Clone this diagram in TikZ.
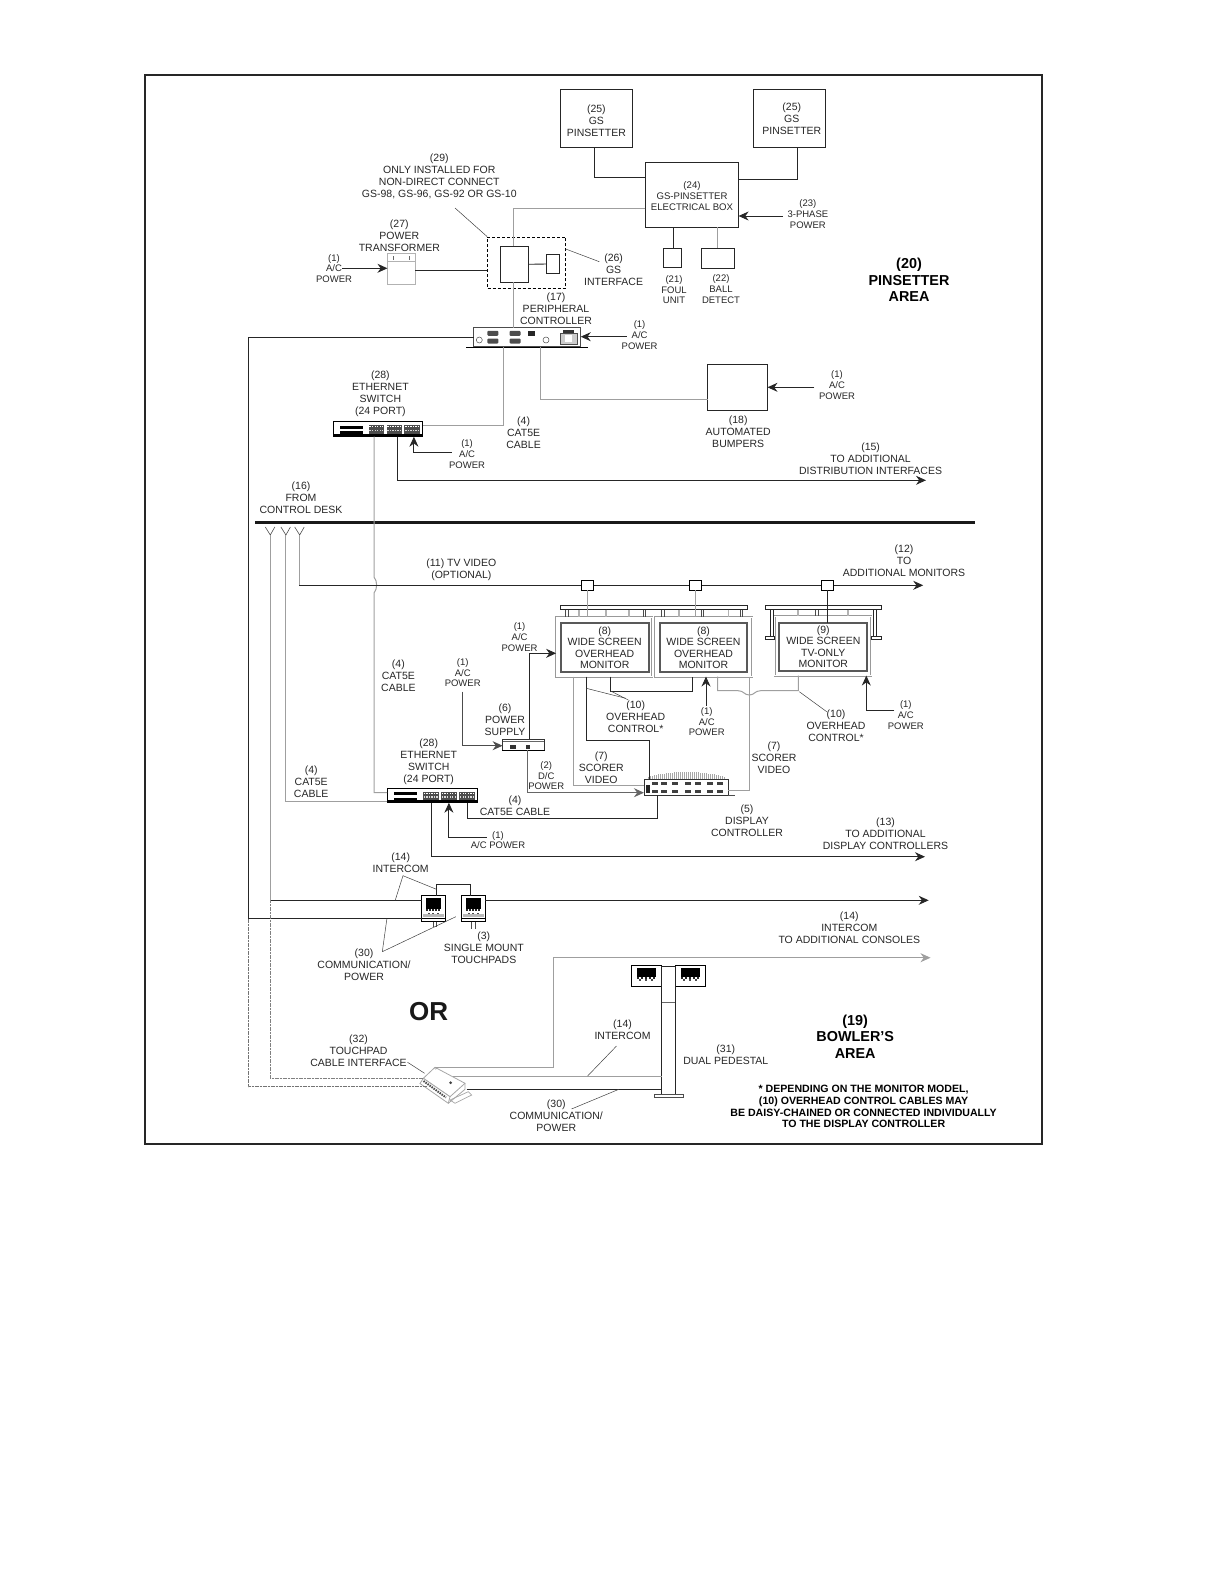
\documentclass[tikz,border=0pt]{standalone}
\usepackage{fontspec}
\setmainfont{Liberation Sans}
\usetikzlibrary{arrows.meta, positioning, calc}

\begin{document}
\begin{tikzpicture}[x=1pt, y=-1pt, >={Stealth[length=10pt,width=9pt]},
  wire/.style={black!85, line width=0.9pt},
  cable/.style={gray!75, line width=1pt},
  faint/.style={black!55, line width=1pt, dash pattern=on 1.2pt off 0.4pt},
  leader/.style={black!75, line width=0.5pt},
  unit/.style={draw=black!85, line width=1pt, inner sep=0pt, outer sep=0pt},
  pale/.style={draw=gray!60, line width=0.8pt, inner sep=0pt, outer sep=0pt},
  bezel/.style={draw=gray!80, line width=0.6pt, double=white, double distance=0.8pt, inner sep=0pt, outer sep=0pt},
  screen/.style={draw=black!65, line width=1.7pt, inner sep=0pt, outer sep=0pt, align=center,
    font=\fontsize{10.5}{11.6}\selectfont, text=black!85},
  txt/.style={align=center, inner sep=0pt, text=black!85, font=\fontsize{10.5}{12}\selectfont},
  tiny/.style={align=center, inner sep=0pt, text=black!85, font=\fontsize{9.5}{10.8}\selectfont},
  area/.style={align=center, inner sep=0pt, font=\fontsize{14.4}{16.6}\bfseries\selectfont},
  note/.style={align=center, inner sep=0pt, font=\fontsize{10.6}{11.8}\bfseries\selectfont}]
  \useasboundingbox (0,0) rectangle (1224,1584);

  % Outer frame and the divider
  \node[draw=black!85, line width=2pt, inner sep=0pt, minimum width=896.4, minimum height=1069.4] (frame) at (593.3,609.7) {};
  \coordinate (barL) at (255,522);
  \coordinate (barR) at (974.6,522);
  \draw[black!90, line width=3pt] (barL) -- (barR);

  % Pinsetter area
  \node[unit, minimum width=71.8, minimum height=58] (pinA) at (596.6,118.3) {};
  \node[txt] (tPinA) at (596.4,121) {(25)\\GS\\PINSETTER};
  \node[unit, minimum width=72.1, minimum height=58] (pinB) at (789.6,118.3) {};
  \node[txt] (tPinB) at (791.8,119) {(25)\\GS\\PINSETTER};
  \node[unit, minimum width=93.2, minimum height=65] (elec) at (692,194.8) {};
  \node[tiny, font=\fontsize{9.6}{11}\selectfont] (tElec) at (692,195.7) {(24)\\GS-PINSETTER\\ELECTRICAL BOX};
  \node[unit, minimum width=18.6, minimum height=19.4] (foul) at (672.5,258) {};
  \node[tiny] (tFoul) at (674,289.7) {(21)\\FOUL\\UNIT};
  \node[unit, minimum width=33.2, minimum height=20.4] (ball) at (718,258.5) {};
  \node[tiny] (tBall) at (721,289) {(22)\\BALL\\DETECT};
  \node[tiny] (tPhase) at (807.9,214) {(23)\\3-PHASE\\POWER};
  \node[area] (tPinArea) at (909,280) {(20)\\PINSETTER\\AREA};

  \coordinate (pinAj) at (594.6,177.3);
  \coordinate (pinBj) at (797.5,179.3);
  \coordinate (foulX) at (673.6,240);
  \coordinate (ballX) at (717.5,240);
  \coordinate (phaseIn) at (783.2,216);
  \draw[wire] (pinA.south -| pinAj) -- (pinAj) -- (pinAj -| elec.west);
  \draw[wire] (pinB.south -| pinBj) -- (pinBj) -- (pinBj -| elec.east);
  \draw[wire] (elec.south -| foulX) -- (foul.north -| foulX);
  \draw[cable] (elec.south -| ballX) -- (ball.north -| ballX);
  \draw[wire, ->] (phaseIn) -- (phaseIn -| elec.east);

  % GS interface
  \node[draw=black, line width=0.7pt, dash pattern=on 3pt off 2pt, inner sep=0pt, minimum width=78.2, minimum height=51.3] (ifcBox) at (526.6,262.6) {};
  \node[unit, minimum width=28.2, minimum height=36] (ifc) at (514.5,264.3) {};
  \node[unit, minimum width=13.2, minimum height=19.4] (ifcS) at (553,264) {};
  \node[pale, minimum width=27.9, minimum height=31] (xfmr) at (401.4,268.8) {};
  \draw[gray!60, line width=0.6pt] (xfmr.west |- 0,261.7) -- (xfmr.east |- 0,261.7);
  \foreach \x in {393,409} { \draw[black!60, line width=0.7pt] (\x,256) -- (\x,260); }
  \node[txt] (tIfcNote) at (439.3,176) {(29)\\ONLY INSTALLED FOR\\NON-DIRECT CONNECT\\GS-98, GS-96, GS-92 OR GS-10};
  \node[txt] (tXfmr) at (399.3,235.3) {(27)\\POWER\\TRANSFORMER};
  \node[tiny] (tAcXf) at (334,268.5) {(1)\\A/C\\POWER};
  \node[txt] (tIfc) at (613.6,269.7) {(26)\\GS\\INTERFACE};

  \coordinate (ifcUp) at (513.2,208);
  \coordinate (xfmrOut) at (415.4,270.3);
  \coordinate (acXf) at (342,268.3);
  \coordinate (noteEnd) at (455,208);
  \coordinate (ifcTag) at (599.3,261.7);
  \coordinate (ifcDash) at (565.7,249);
  \draw[cable] (elec.west |- ifcUp) -- (ifcUp) -- (ifcUp |- ifc.north);
  \draw[wire] (ifc.east) -- (ifcS.west);
  \draw[wire] (xfmrOut) -- (xfmrOut -| ifcBox.west);
  \draw[wire, ->] (acXf) -- (acXf -| xfmr.west);
  \draw[leader] (noteEnd) -- (ifcBox.north west);
  \draw[leader] (ifcDash) -- (ifcTag);

  % Peripheral controller
  \node[pale, draw=black!70, minimum width=107.1, minimum height=19] (periph) at (527.2,337.2) {};
  \draw[black, line width=0.8pt] (466,347) -- (587.9,347);
  \foreach \x/\y in {492.9/333.3, 492.9/341, 515/333.3, 515/341} {
    \fill[black!70, rounded corners=1pt] (\x-5.5,\y-2.5) rectangle (\x+5.5,\y+2.5);
  }
  \foreach \x in {479.3,546} { \draw[black!70, line width=0.5pt] (\x,340) circle (3); }
  \fill[black!85] (528,331) rectangle (535,336);
  \draw[black!70, line width=0.8pt, fill=gray!40] (560.5,333) rectangle (577,344);
  \fill[black!80] (563,330) rectangle (574,333);
  \fill[white] (565,335) rectangle (572,342);
  \node[txt] (tPeriph) at (556,309) {(17)\\PERIPHERAL\\CONTROLLER};
  \node[tiny] (tAcPeriph) at (639.6,335) {(1)\\A/C\\POWER};
  \coordinate (acPeriph) at (626.8,336.7);
  \draw[wire, ->] (acPeriph) -- (acPeriph -| periph.east);
  \draw[cable] (ifcUp |- ifc.south) -- (ifcUp |- periph.north);

  % Automated bumpers
  \node[unit, minimum width=60, minimum height=46] (bump) at (737.5,387.3) {};
  \node[txt] (tBump) at (738.2,431.3) {(18)\\AUTOMATED\\BUMPERS};
  \node[tiny] (tAcBump) at (837,385) {(1)\\A/C\\POWER};
  \coordinate (acBump) at (814.3,387.3);
  \coordinate (bumpJ) at (540.4,399.3);
  \draw[wire, ->] (acBump) -- (bump.east);
  \draw[cable] (periph.south -| bumpJ) -- (bumpJ) -- (bumpJ -| bump.west);

  % Ethernet switches
  \foreach \n/\cx/\cy/\w/\h in {A/378/429/89.7/15.4, B/432.4/795.5/90.8/14.4} {
    \node[unit, draw=black, fill=white, minimum width=\w, minimum height=\h] (sw\n) at (\cx,\cy) {};
    \fill[black] (\cx-\w*0.42,\cy-\h*0.22) rectangle (\cx-\w*0.17,\cy-\h*0.02);
    \fill[black] (\cx-\w*0.42,\cy+\h*0.14) rectangle (\cx-\w*0.17,\cy+\h*0.5);
    \fill[black] (\cx-\w*0.5,\cy+\h*0.3) rectangle (\cx+\w*0.5,\cy+\h*0.5);
    \foreach \g in {0,1,2} {
      \fill[black!70] (\cx-\w*0.105+\g*\w*0.2,\cy-\h*0.26) rectangle ++(\w*0.175,\h*0.56);
      \foreach \k in {0,...,5} {
        \fill[white] (\cx-\w*0.095+\g*\w*0.2+\k*\w*0.028,\cy-\h*0.2) rectangle ++(1.3,1.5);
        \fill[gray!30] (\cx-\w*0.095+\g*\w*0.2+\k*\w*0.028,\cy+\h*0.06) rectangle ++(1.3,1.5);
      }
    }
  }
  \node[txt] (tSwA) at (380.4,394) {(28)\\ETHERNET\\SWITCH\\(24 PORT)};
  \node[txt] (tCatA) at (523.6,433) {(4)\\CAT5E\\CABLE};
  \node[tiny] (tAcSwA) at (467.1,454) {(1)\\A/C\\POWER};
  \node[txt] (tDist) at (870.6,458.3) {(15)\\TO ADDITIONAL\\DISTRIBUTION INTERFACES};
  \node[txt] (tDesk) at (301,498) {(16)\\FROM\\CONTROL DESK};

  \coordinate (catA) at (503.6,425.3);
  \coordinate (acSwA) at (451.8,452.7);
  \coordinate (acSwAj) at (413.9,452.7);
  \coordinate (distJ) at (397.5,480.3);
  \coordinate (distEnd) at (926,480.3);
  \draw[cable] (periph.south -| catA) -- (catA) -- (catA -| swA.east);
  \draw[wire, ->] (acSwA) -- (acSwAj) -- (acSwAj |- swA.south);
  \draw[wire, ->] (swA.south -| distJ) -- (distJ) -- (distEnd);

  % Trunk between the switches, hopping the TV line
  \coordinate (trunk) at (374,577);
  \coordinate (trunkEnd) at (374,792.7);
  \draw[cable] (swA.south -| trunk) -- (trunk) .. controls (377.5,581) and (377.5,589) .. (374,593) -- (trunkEnd) -- (trunkEnd -| swB.west);

  % Lines from the control desk
  \foreach \n/\x in {A/270.3, B/285.9, C/299.7} {
    \coordinate (fork\n) at (\x,535);
    \coordinate (forkL\n) at (\x-5,527);
    \coordinate (forkR\n) at (\x+4.5,527);
    \draw[black!70, line width=0.6pt] (forkL\n) -- (fork\n) -- (forkR\n);
  }
  \coordinate (tvJ) at (299.7,585.3);
  \coordinate (tvEnd) at (923.2,585.3);
  \coordinate (catB) at (285.9,801);
  \draw[wire, ->] (forkC) -- (tvJ) -- (tvEnd);
  \draw[cable] (forkC) -- (tvJ);
  \draw[cable] (forkB) -- (catB) -- (catB -| swB.west);
  \node[txt] (tTv) at (461.3,570) {(11) TV VIDEO\\(OPTIONAL)};
  \node[txt] (tMore) at (904,560.7) {(12)\\TO\\ADDITIONAL MONITORS};
  \node[txt] (tCatM) at (398.4,675.7) {(4)\\CAT5E\\CABLE};
  \node[txt] (tCatL) at (311.2,782) {(4)\\CAT5E\\CABLE};
  \node[txt] (tSwB) at (428.7,762) {(28)\\ETHERNET\\SWITCH\\(24 PORT)};

  % Overhead monitors
  \foreach \n/\cx/\w in {A/604.2/96.2, B/703.7/96.5} {
    \node[bezel, minimum width=\w, minimum height=59.5] (frm\n) at (\cx,646.8) {};
  }
  \node[bezel, minimum width=96.6, minimum height=59.2] (frmC) at (823,646) {};
  \draw[black!85, line width=0.9pt] (560.7,605.7) rectangle (747.3,609.7);
  \draw[black!85, line width=0.9pt] (765.3,605.7) rectangle (881.7,609.7);
  \foreach \x in {578.7,605.7,628.7,678.7,728.3} {
    \draw[gray!60, line width=1.6pt] (\x,609.7) -- (\x,616.7);
  }
  \foreach \x in {566.7,644.3,662.7,702.3,741} {
    \draw[black!70, line width=0.6pt] (\x-1.2,609.7) -- (\x-1.2,616.7) (\x+1.2,609.7) -- (\x+1.2,616.7);
  }
  \foreach \x in {798,848} { \draw[gray!60, line width=1.6pt] (\x,609.7) -- (\x,616); }
  \draw[black!70, line width=0.6pt] (815.5,609.7) -- (815.5,616) (818,609.7) -- (818,616);
  \draw[black!85, line width=0.7pt] (770.5,609.7) -- (770.5,636) (773,609.7) -- (773,636);
  \draw[black!85, line width=0.7pt] (873,609.7) -- (873,636) (876,609.7) -- (876,636);
  \draw[black!85, line width=0.7pt] (765.3,636) rectangle (774.3,639.3);
  \draw[black!85, line width=0.7pt] (871.7,636) rectangle (881.7,639.3);
  \node[screen, minimum width=88, minimum height=49] (monA) at (604.7,647.8) {(8)\\WIDE SCREEN\\OVERHEAD\\MONITOR};
  \node[screen, minimum width=87.6, minimum height=49] (monB) at (703.5,647.8) {(8)\\WIDE SCREEN\\OVERHEAD\\MONITOR};
  \node[screen, minimum width=88, minimum height=48.3] (monC) at (823.3,646.8) {(9)\\WIDE SCREEN\\TV-ONLY\\MONITOR};

  % TV taps
  \foreach \n/\cx in {A/587.9, B/695.4, C/827.5} {
    \node[unit, draw=black, fill=white, minimum width=12, minimum height=10] (tap\n) at (\cx,585.3) {};
  }
  \draw[cable] (tapA.south) -- (tapA |- frmA.north);
  \draw[cable] (tapB.south) -- (tapB |- frmB.north);
  \draw[wire] (tapC.south) -- (tapC |- monC.north);

  % Power supply
  \node[pale, draw=black!80, minimum width=41.4, minimum height=11.3] (psu) at (523.3,744.6) {};
  \draw[black, line width=1.4pt] (502,750.3) -- (545,750.3);
  \draw[black!60, line width=1pt] (502.6,741) -- (544,741);
  \fill[black!80] (510,745) rectangle (516,749);
  \fill[black!80] (526,745) rectangle (530,749);
  \node[txt] (tPsu) at (505,719.3) {(6)\\POWER\\SUPPLY};
  \node[tiny] (tAcPsu) at (462.7,672.7) {(1)\\A/C\\POWER};
  \node[tiny] (tAcMon) at (519.6,637) {(1)\\A/C\\POWER};
  \node[tiny] (tDc) at (546.2,775.7) {(2)\\D/C\\POWER};

  \coordinate (acPsu) at (462.7,691.7);
  \coordinate (acPsuJ) at (462.7,745.7);
  \coordinate (monPow) at (529.7,653.3);
  \coordinate (dcJ) at (527,792.7);
  \draw[cable, ->, black!70] (acPsu) -- (acPsuJ) -- (acPsuJ -| psu.west);
  \draw[wire, ->] (psu.north -| monPow) -- (monPow) -- (monPow -| frmA.west);

  % Display controller
  \node[pale, draw=black!80, minimum width=84.3, minimum height=15.7] (disp) at (686.1,787.1) {};
  \foreach \k in {0,...,38} {
    \pgfmathsetmacro{\fx}{648+\k*2}
    \pgfmathsetmacro{\fy}{772+5*((\fx-686)/40)^2}
    \draw[gray!70, line width=1pt] (\fx,779.3) -- (\fx,\fy);
  }
  \foreach \x in {655,664,675,688,698,710,720} {
    \fill[black!75] (\x-3,782) rectangle (\x+3,784.5);
    \fill[black!75] (\x-3,790) rectangle (\x+3,792.5);
  }
  \fill[black!85] (645.5,785) rectangle (650,793);
  \draw[black!70, line width=0.8pt] (728.3,795) -- (735,795);
  \node[txt] (tDisp) at (747,821) {(5)\\DISPLAY\\CONTROLLER};
  \node[txt] (tCatB) at (515,805.5) {(4)\\CAT5E CABLE};
  \node[tiny] (tAcSwB) at (498,840) {(1)\\A/C POWER};
  \node[txt] (tAddDisp) at (885.5,833.3) {(13)\\TO ADDITIONAL\\DISPLAY CONTROLLERS};

  \coordinate (catC) at (467.7,818.3);
  \coordinate (catCu) at (657.4,818.3);
  \coordinate (acSwB) at (486.6,837.3);
  \coordinate (acSwBj) at (448.9,837.3);
  \coordinate (addJ) at (431.9,856.7);
  \coordinate (addEnd) at (925,856.7);
  \draw[cable, black!60, ->] (psu.south -| dcJ) -- (dcJ) -- (dcJ -| disp.west);
  \draw[wire] (swB.south -| catC) -- (catC) -- (catCu) -- (catCu |- disp.south);
  \draw[wire, ->] (acSwB) -- (acSwBj) -- (acSwBj |- swB.south);
  \draw[wire, ->] (swB.south -| addJ) -- (addJ) -- (addEnd);

  % Monitor control and video
  \node[txt] (tCtlA) at (635.7,716.7) {(10)\\OVERHEAD\\CONTROL*};
  \node[txt] (tCtlB) at (836,726) {(10)\\OVERHEAD\\CONTROL*};
  \node[txt] (tVidA) at (601.3,767.3) {(7)\\SCORER\\VIDEO};
  \node[txt] (tVidB) at (774,758) {(7)\\SCORER\\VIDEO};
  \node[tiny] (tAcMid) at (706.7,721.7) {(1)\\A/C\\POWER};
  \node[tiny] (tAcRt) at (905.8,715) {(1)\\A/C\\POWER};

  \coordinate (vidA) at (573.7,785.3);
  \coordinate (ctlV) at (586.3,740.3);
  \coordinate (ctlVe) at (649,740.3);
  \coordinate (ctlVd) at (649,780);
  \coordinate (ctlA) at (610.7,691);
  \coordinate (ctlB) at (692.7,691);
  \coordinate (vidB) at (749.3,790);
  \coordinate (ctlD) at (717.7,690.7);
  \coordinate (ctlE) at (798.3,690.7);
  \coordinate (acMid) at (706,706);
  \coordinate (acRt) at (894.3,710.3);
  \coordinate (acRtJ) at (866.3,710.3);
  \coordinate (tagA) at (586.3,688.3);
  \coordinate (tagB) at (625.7,698.3);
  \coordinate (tagC) at (628.3,700);
  \coordinate (tagD) at (799.3,691.7);
  \coordinate (tagE) at (826.7,711.7);
  \draw[cable] (frmA.south -| vidA) -- (vidA) -- (vidA -| disp.west);
  \draw[wire] (frmA.south -| ctlV) -- (ctlV) -- (ctlVe) -- (ctlVd);
  \draw[wire] (frmA.south -| ctlA) -- (ctlA) -- (ctlB) -- (ctlB |- frmB.south);
  \draw[cable] (frmB.south -| vidB) -- (vidB) -- (vidB -| disp.east);
  \draw[cable] (frmB.south -| ctlD) -- (ctlD) -- (738,690.7) .. controls (744,690.7) and (744,695) .. (749.3,695) .. controls (754.6,695) and (754.6,690.7) .. (760.6,690.7) -- (ctlE) -- (ctlE |- frmC.south);
  \draw[wire, ->] (acMid) -- (acMid |- frmB.south);
  \draw[wire, ->] (acRt) -- (acRtJ) -- (acRtJ |- frmC.south);
  \draw[leader] (tagA) -- (tagB);
  \draw[leader] (ctlA) -- (tagC);
  \draw[leader] (tagD) -- (tagE);

  % Touchpads
  \foreach \n/\cx/\cy/\w/\h in {A/433.4/908.7/23.4/26, B/473.4/908.7/23.4/26, C/646.3/976.3/30.3/20.7, D/690.2/976.3/29.8/20.7} {
    \node[unit, draw=black, minimum width=\w, minimum height=\h] (tp\n) at (\cx,\cy) {};
    \fill[black] (\cx-\w*0.32,\cy-\h*0.4) rectangle (\cx+\w*0.32,\cy+\h*0.02);
    \foreach \k in {-2,...,2} {
      \fill[black!85] (\cx+\k*\w*0.13-1,\cy+\h*0.03) rectangle ++(2,2);
    }
    \foreach \k in {-1,0,1} {
      \fill[black!70] (\cx+\k*\w*0.2-1,\cy+\h*0.15) rectangle ++(2,1.8);
    }
  }
  \foreach \n in {A,B} {
    \fill[gray!55] (tp\n.south west) ++(1,-7.5) rectangle ++(21.4,3);
    \draw[black, line width=0.8pt] (tp\n.south west) ++(0,-3.5) -- ++(23.4,0);
  }
  \foreach \x/\e in {433.3/927, 436/927, 471.7/929, 475/929} { \draw[black!70, line width=0.5pt] (\x,921.7) -- (\x,\e); }
  \node[txt] (tIntA) at (400.7,862.8) {(14)\\INTERCOM};
  \node[txt] (tTouch) at (483.8,948) {(3)\\SINGLE MOUNT\\TOUCHPADS};
  \node[txt] (tComA) at (364,965.2) {(30)\\COMMUNICATION/\\POWER};
  \node[txt] (tIntMore) at (849.3,928) {(14)\\INTERCOM\\TO ADDITIONAL CONSOLES};
  \node[inner sep=0pt, font=\fontsize{26}{28}\bfseries\selectfont, text=black!90] (tOr) at (428.7,1012) {OR};

  \coordinate (tpLink) at (436.5,884.3);
  \coordinate (tpLinkB) at (470.9,884.3);
  \coordinate (commA) at (248.3,337.3);
  \coordinate (commB) at (248.3,918.7);
  \coordinate (commC) at (248.3,1086.7);
  \coordinate (commD) at (426.7,1086.7);
  \coordinate (icomA) at (270.3,900.3);
  \coordinate (icomB) at (270.3,1078.3);
  \coordinate (icomC) at (423.3,1078.3);
  \coordinate (icomEnd) at (928.7,900.3);
  \coordinate (tagF) at (403,875.7);
  \coordinate (tagG) at (395.2,900.3);
  \coordinate (tagH) at (436.5,889.3);
  \coordinate (tagI) at (382.3,951.7);
  \coordinate (tagJ) at (386.9,918.7);
  \coordinate (tagK) at (455.8,916.7);
  \draw[wire] (tpA.north -| tpLink) -- (tpLink) -- (tpLinkB) -- (tpB.north -| tpLinkB);
  \draw[wire] (periph.west |- commA) -- (commA) -- (commB) -- (commB -| tpA.west);
  \draw[cable] (forkA) -- (icomA);
  \draw[wire] (icomA) -- (icomA -| tpA.west);
  \draw[wire, ->] (tpB.east |- icomEnd) -- (icomEnd);
  \draw[leader] (tagF) -- (tagG);
  \draw[leader] (tagF) -- (tagH);
  \draw[leader] (tagI) -- (tagJ);
  \draw[leader] (tagI) -- (tagK);

  % Dual pedestal and cable interface
  \node[unit, minimum width=13.8, minimum height=129] (ped) at (668.4,1030.5) {};
  \node[pale, draw=black!70, fill=white, minimum width=28.4, minimum height=3] (pedBase) at (668.8,1095.8) {};
  \draw[black!60, line width=0.6pt] (ped.west |- 0,1002.7) -- (ped.east |- 0,1002.7);
  \coordinate (tcblA) at (435,1067.3);
  \coordinate (tcblB) at (465,1083.3);
  \coordinate (tcblC) at (450,1096.7);
  \coordinate (tcblD) at (423.3,1078.3);
  \coordinate (tcblE) at (448.3,1103.3);
  \coordinate (tcblF) at (420,1083.5);
  \draw[gray!70, line width=0.7pt, fill=white] (468.3,1091.7) -- (471.7,1095) -- (455,1103.3) -- (450,1100) -- cycle;
  \draw[gray!70, line width=0.8pt, fill=white] (tcblA) -- (tcblB) -- (tcblC) -- (tcblD) -- cycle;
  \draw[gray!70, line width=0.8pt, fill=white] (tcblD) -- (tcblC) -- (tcblE) -- (tcblF) -- cycle;
  \draw[gray!70, line width=0.8pt] (tcblB) -- (465,1089.3) -- (tcblE);
  \draw[black!70, line width=2pt, dash pattern=on 1.5pt off 1pt] (423.5,1081) -- (446,1097.5);
  \fill[black!75] (450.7,1082.7) circle (1.5);
  \draw[gray!70, line width=0.5pt] (435.7,1068.3) circle (1);
  \node[txt] (tIntB) at (622.5,1029.3) {(14)\\INTERCOM};
  \node[txt] (tTcbl) at (358.5,1050.3) {(32)\\TOUCHPAD\\CABLE INTERFACE};
  \node[txt] (tComB) at (556.3,1116) {(30)\\COMMUNICATION/\\POWER};
  \node[txt] (tPed) at (725.8,1054.8) {(31)\\DUAL PEDESTAL};
  \node[area] (tBowl) at (855.2,1036.7) {(19)\\BOWLER'S\\AREA};
  \node[note] (tFoot) at (863.6,1106.5) {* DEPENDING ON THE MONITOR MODEL,\\(10) OVERHEAD CONTROL CABLES MAY\\BE DAISY-CHAINED OR CONNECTED INDIVIDUALLY\\TO THE DISPLAY CONTROLLER};

  \coordinate (morB) at (553.6,1067.5);
  \coordinate (morC) at (553.6,957.7);
  \coordinate (morEnd) at (930.5,957.7);
  \coordinate (pedA) at (453,1076);
  \coordinate (pedB) at (466.7,1089.3);
  \coordinate (tagL) at (616.5,1046);
  \coordinate (tagM) at (587.6,1076);
  \coordinate (tagN) at (571.5,1109);
  \coordinate (tagO) at (618.8,1089.3);
  \coordinate (tagP) at (407.6,1062.3);
  \coordinate (tagQ) at (424.6,1073.3);
  \draw[faint] (commB) -- (commC) -- (commD);
  \draw[faint, black!50] (icomA) -- (icomB) -- (icomC);
  \draw[cable, ->] (tcblA) -- (tcblA -| morB) -- (morC) -- (morEnd);
  \draw[cable] (pedA) -- (pedA -| ped.west);
  \draw[wire] (pedB) -- (pedB -| ped.west);
  \draw[leader] (tagL) -- (tagM);
  \draw[leader] (tagN) -- (tagO);
  \draw[leader] (tagP) -- (tagQ);
\end{tikzpicture}
\end{document}
